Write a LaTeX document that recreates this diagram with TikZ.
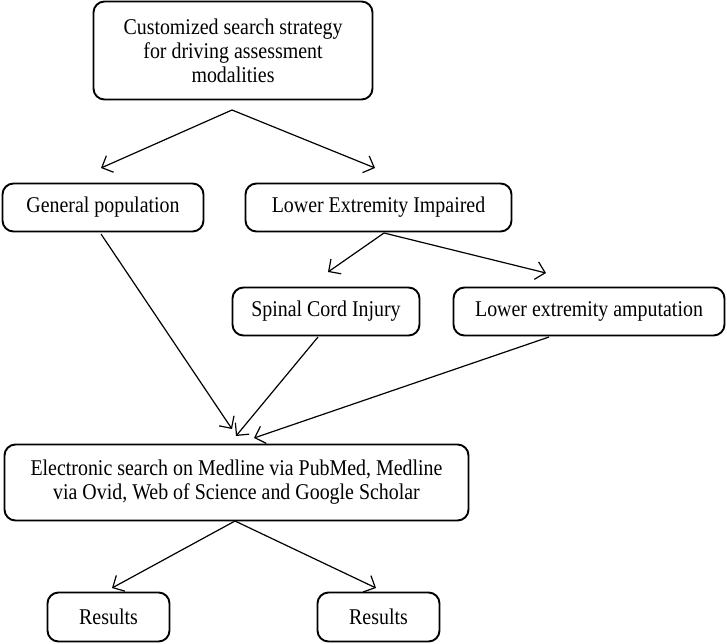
\documentclass[tikz,border=0pt]{standalone}
\usepackage{fontspec}
\setmainfont{Liberation Serif}[FakeStretch=0.885]
\usetikzlibrary{arrows.meta}
\begin{document}
\begin{tikzpicture}[x=1pt,y=-1pt,
  box/.style={draw, line width=1.9pt, rounded corners=11pt, align=center,
    font=\fontsize{22.5}{24}\selectfont, inner sep=0pt},
  conn/.style={line width=1.2pt, -{Straight Barb[length=9pt,width=18pt,line width=1.2pt]}}]
\useasboundingbox (0,0) rectangle (727,643);
\node[box, minimum width=279pt, minimum height=98pt] (top) at (233,50.5)
  {Customized search strategy\\for driving assessment\\modalities};
\node[box, minimum width=201pt, minimum height=48pt] (gen) at (103,207.5) {General population};
\node[box, minimum width=266pt, minimum height=48pt] (lei) at (378.5,207.5) {Lower Extremity Impaired};
\node[box, minimum width=187pt, minimum height=48pt] (sci) at (326,311.5) {Spinal Cord Injury};
\node[box, minimum width=271pt, minimum height=48pt] (lea) at (589,311.5) {Lower extremity amputation};
\node[box, minimum width=464pt, minimum height=76pt] (es) at (236.5,482.5)
  {Electronic search on Medline via PubMed, Medline\\via Ovid, Web of Science and Google Scholar};
\node[box, minimum width=122pt, minimum height=49pt] (r1) at (108.5,617) {Results};
\node[box, minimum width=122pt, minimum height=49pt] (r2) at (378.5,617) {Results};
% connector end points
\coordinate (ts) at (232,110);
\coordinate (tg) at (101,168);
\coordinate (tl) at (375,168);
\coordinate (ls) at (384,233);
\coordinate (lsci) at (328,272);
\coordinate (llea) at (546,273);
\coordinate (gs) at (101,234);
\coordinate (ge) at (232,429);
\coordinate (ss) at (318,337);
\coordinate (se) at (236,436);
\coordinate (as) at (549,337);
\coordinate (ae) at (254,438);
\coordinate (eo) at (235,521);
\coordinate (er1) at (112,588);
\coordinate (er2) at (376,588);
\draw[conn] (ts) -- (tg);
\draw[conn] (ts) -- (tl);
\draw[conn] (ls) -- (lsci);
\draw[conn] (ls) -- (llea);
\draw[conn] (gs) -- (ge);
\draw[conn] (ss) -- (se);
\draw[conn] (as) -- (ae);
\draw[conn] (eo) -- (er1);
\draw[conn] (eo) -- (er2);
\end{tikzpicture}
\end{document}
